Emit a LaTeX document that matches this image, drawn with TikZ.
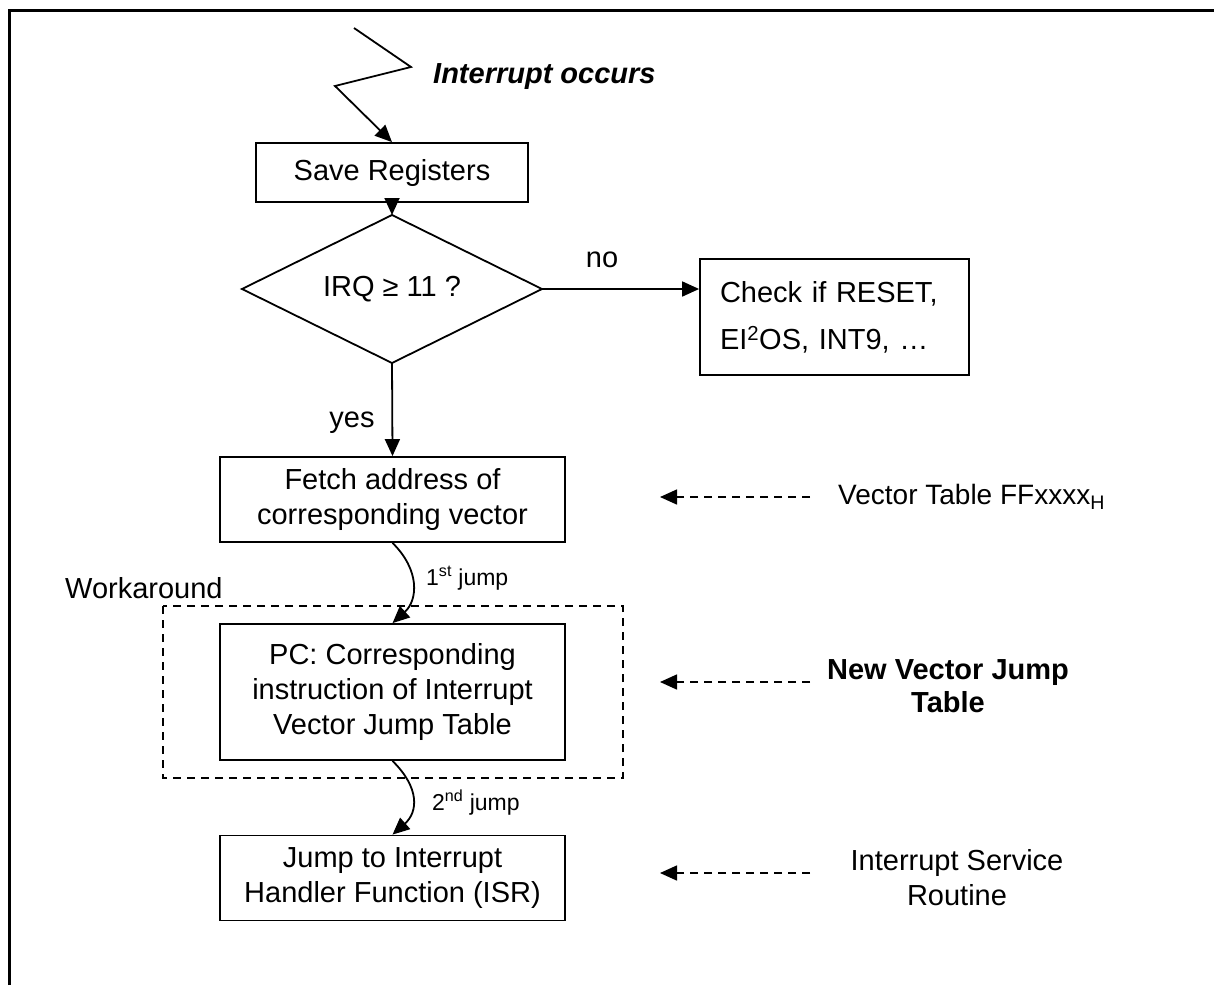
\documentclass[tikz,border=0pt]{standalone}
\usepackage{fontspec}
\setmainfont{Liberation Sans}
\usetikzlibrary{arrows.meta,shapes.geometric}
\begin{document}
\begin{tikzpicture}[x=1pt,y=-1pt,
  every node/.style={font=\fontsize{29}{35}\selectfont},
  box/.style={draw,line width=1.8pt,inner sep=0pt,align=center},
  tip/.style={-{Triangle[length=17pt,width=15pt]}},
  flow/.style={line width=1.8pt,tip},
  ref/.style={line width=1.6pt,dash pattern=on 8pt off 6pt,tip},
  small/.style={font=\fontsize{23}{27}\selectfont}]
\useasboundingbox (0,0) rectangle (1214,985);
% page frame (top and left edges)
\draw[line width=3pt] (9,985) -- (9,10) -- (1214,10);

% flow chart boxes
\node[box,minimum width=272,minimum height=59] (save) at (392,172.5) {Save Registers};
\node[draw,line width=1.8pt,diamond,shape aspect=2,inner sep=0pt,outer sep=0pt,minimum width=300,minimum height=148] (irq) at (392,289) {IRQ ≥ 11 ?};
\node[box,minimum width=269,minimum height=116,text width=229,align=left,
      font=\fontsize{29}{47}\selectfont] (check) at (834.5,317)
      {Check if RESET,\\EI\textsuperscript{2}OS, INT9, …};
\node[box,minimum width=345,minimum height=85] (fetch) at (392.5,499.5)
      {Fetch address of\\corresponding vector};
\node[box,minimum width=345,minimum height=136] (pc) at (392.5,692)
      {PC: Corresponding\\instruction of Interrupt\\Vector Jump Table};
\node[box,minimum width=345,minimum height=85] (isr) at (392.5,878)
      {Jump to Interrupt\\Handler Function (ISR)};

% workaround frame
\draw[line width=1.6pt,dash pattern=on 8pt off 6pt] (163,606) rectangle (623,778);
\node[anchor=west,inner sep=0pt] (wa) at (65,588) {Workaround};

% interrupt entry
\node[anchor=west,inner sep=0pt,font=\fontsize{29}{35}\selectfont\bfseries\itshape] (occ) at (433,77) {Interrupt occurs};
\coordinate (z0) at (354,28);
\coordinate (z1) at (411,67);
\coordinate (z2) at (335,86);
\draw[flow] (z0) -- (z1) -- (z2) -- (save.north);

% connectors
\draw[flow] (save.south) -- (irq.north);
\draw[flow] (irq.east) -- (irq.east -| check.west);
\node[inner sep=0pt] (no) at (602,260) {no};
\draw[flow] (irq.south) -- (fetch.north);
\node[inner sep=0pt] (yes) at (352,423) {yes};

\draw[flow] (fetch.south) .. controls (420,570) and (418,600) .. (pc.north);
\node[small,anchor=west,inner sep=0pt] (j1) at (426,578) {1\textsuperscript{st} jump};
\draw[flow] (pc.south) .. controls (420,788) and (418,812) .. (isr.north);
\node[small,anchor=west,inner sep=0pt] (j2) at (432,803) {2\textsuperscript{nd} jump};

% annotations on the right
\node[anchor=west,inner sep=0pt,font=\fontsize{28}{35}\selectfont] (vt) at (838,497) {Vector Table FFxxxx\textsubscript{H}};
\coordinate (vta) at (810,497);
\coordinate (vtb) at (660,497);
\draw[ref] (vta) -- (vtb);

\node[align=center,inner sep=0pt,font=\fontsize{29}{33}\selectfont\bfseries] (nvt) at (948,686) {New Vector Jump\\Table};
\coordinate (nva) at (810,682);
\coordinate (nvb) at (660,682);
\draw[ref] (nva) -- (nvb);

\node[align=center,inner sep=0pt] (isrl) at (957,878) {Interrupt Service\\Routine};
\coordinate (isa) at (810,873);
\coordinate (isb) at (660,873);
\draw[ref] (isa) -- (isb);
\end{tikzpicture}
\end{document}
